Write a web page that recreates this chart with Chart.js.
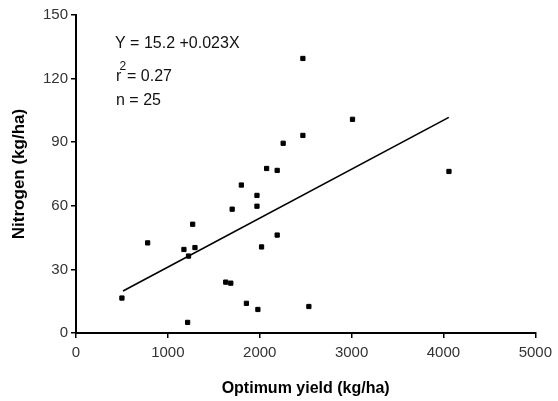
<!DOCTYPE html>
<html lang="en">
<head>
    <meta charset="UTF-8">
    <title>Nitrogen vs optimum yield</title>
    <script src="https://cdn.jsdelivr.net/npm/chart.js"></script>
    <style>
        body { margin: 0; background: #fff; }
    </style>
</head>
<body>

<canvas id="nChart" width="558" height="401"></canvas>

<script>
    // data
    const yieldKg = [500, 780, 1175, 1225, 1270, 1295, 1215, 1630, 1685, 1700, 1800, 1855, 1970,
                     1970, 1980, 2020, 2075, 2190, 2190, 2255, 2470, 2470, 2535, 3010, 4060];
    const nitrogen = [16.5, 42.5, 39.4, 36.3, 51.3, 40.3, 5, 24, 23.5, 58.4, 69.8, 14, 64.9,
                      59.8, 11.1, 40.6, 77.6, 76.7, 46.2, 89.5, 129.5, 93.2, 12.5, 100.8, 76.2];

    // fitted line, as drawn
    const trendX = [512, 4058];
    const trendY = [19.8, 101.7];

    const xTicks = [0, 1000, 2000, 3000, 4000, 5000];
    const yTicks = [0, 30, 60, 90, 120, 150];

    const statLines = ['Y = 15.2 +0.023X', 'r', '2', '= 0.27', 'n = 25'];

    Chart.defaults.font.family = "'Liberation Sans', Arial, sans-serif";

    // regression text in the upper left corner
    const statsText = {
        id: 'statsText',
        afterDraw(chart) {
            const ctx = chart.ctx;
            ctx.save();
            ctx.fillStyle = '#111';
            ctx.textBaseline = 'alphabetic';
            ctx.font = "16px 'Liberation Sans', Arial, sans-serif";
            ctx.fillText(statLines[0], 115, 48);
            ctx.fillText(statLines[1], 116, 81);
            ctx.fillText(statLines[3], 127, 81);
            ctx.fillText(statLines[4], 116, 105);
            ctx.font = "12px 'Liberation Sans', Arial, sans-serif";
            ctx.fillText(statLines[2], 119.5, 70);
            ctx.restore();
        }
    };

    const points = yieldKg.map((x, i) => ({ x: x, y: nitrogen[i] }));
    const trend = trendX.map((x, i) => ({ x: x, y: trendY[i] }));

    new Chart(document.getElementById('nChart'), {
        type: 'scatter',
        data: {
            datasets: [{
                data: points,
                pointStyle: 'rect',
                pointRadius: 3,
                borderWidth: 1,
                backgroundColor: '#000',
                borderColor: '#000'
            }, {
                data: trend,
                showLine: true,
                pointRadius: 0,
                borderColor: '#000',
                borderWidth: 1.6
            }]
        },
        options: {
            responsive: false,
            animation: false,
            layout: { padding: { top: 15, right: 20, left: 0, bottom: 0 } },
            plugins: {
                legend: { display: false },
                tooltip: { enabled: false }
            },
            scales: {
                x: {
                    type: 'linear',
                    min: 0,
                    max: 5000,
                    afterBuildTicks: s => { s.ticks = xTicks.map(v => ({ value: v })); },
                    afterFit: s => { s.height = 68; },
                    grid: { drawOnChartArea: false, drawTicks: true, tickLength: 5, color: '#000', lineWidth: 1.5 },
                    border: { color: '#000', width: 2 },
                    ticks: { color: '#333', font: { size: 15 }, padding: 6, maxRotation: 0, callback: v => String(v) },
                    title: {
                        display: true,
                        text: 'Optimum yield (kg/ha)',
                        color: '#000',
                        font: { size: 16, weight: 'bold' },
                        padding: { top: 0, bottom: 3 }
                    }
                },
                y: {
                    type: 'linear',
                    min: 0,
                    max: 150,
                    afterBuildTicks: s => { s.ticks = yTicks.map(v => ({ value: v })); },
                    afterFit: s => { s.width = 76; },
                    grid: { drawOnChartArea: false, drawTicks: true, tickLength: 5, color: '#000', lineWidth: 1.5 },
                    border: { color: '#000', width: 2 },
                    ticks: { color: '#333', font: { size: 15 }, padding: 3, callback: v => String(v) },
                    title: {
                        display: true,
                        text: 'Nitrogen (kg/ha)',
                        color: '#000',
                        font: { size: 17, weight: 'bold' },
                        padding: { top: 9, bottom: 0 }
                    }
                }
            }
        },
        plugins: [statsText]
    });
</script>

</body>
</html>
